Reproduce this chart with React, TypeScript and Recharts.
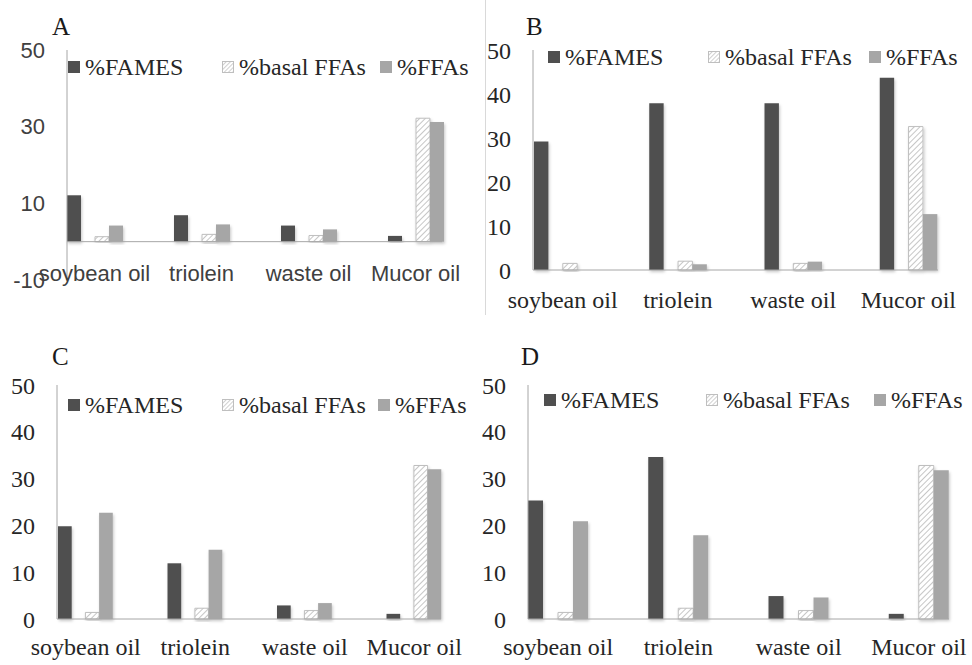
import { BarChart, Bar, XAxis, YAxis, ReferenceLine } from 'recharts'

const categories = ['soybean oil', 'triolein', 'waste oil', 'Mucor oil']
const seriesNames = ['%FAMES', '%basal FFAs', '%FFAs']

const famesA = [12.1, 6.9, 4.2, 1.5]
const basalA = [1.3, 1.9, 1.6, 32.2]
const ffasA = [4.2, 4.5, 3.2, 31.2]

const famesB = [29.2, 37.9, 37.9, 43.7]
const basalB = [1.5, 2.0, 1.5, 32.6]
const ffasB = [0, 1.3, 1.9, 12.7]

const famesC = [19.8, 11.9, 2.9, 1.1]
const basalC = [1.4, 2.3, 1.8, 32.8]
const ffasC = [22.7, 14.8, 3.4, 32.0]

const famesD = [25.3, 34.6, 4.9, 1.1]
const basalD = [1.4, 2.3, 1.8, 32.8]
const ffasD = [20.9, 17.9, 4.6, 31.8]

const ticksA = [-10, 10, 30, 50]
const ticksBCD = [0, 10, 20, 30, 40, 50]

const DARK = '#4f4f4f'
const LIGHT = '#a6a6a6'
const AXIS = '#a6a6a6'
const SERIF = '"Liberation Serif", "Times New Roman", serif'
const SANS = '"Liberation Sans", Arial, sans-serif'

type Panel = {
  id: string
  left: number
  top: number
  width: number
  height: number
  plotLeft: number
  plotRight: number
  plotTop: number
  plotBottom: number
  padLeft: number
  padRight: number
  barSize: number
  domain: [number, number]
  ticks: number[]
  fames: number[]
  basal: number[]
  ffas: number[]
  font: string
  fontSize: number
  textColor: string
  catDy: number
  zeroLine: boolean
  letterX: number
  letterY: number
  legendY: number
  legendX: number[]
}

const panels: Panel[] = [
  {
    id: 'A', left: 0, top: 0, width: 486, height: 320,
    plotLeft: 67, plotRight: 442, plotTop: 50, plotBottom: 280,
    padLeft: -26, padRight: -27, barSize: 14,
    domain: [-10, 50], ticks: ticksA,
    fames: famesA, basal: basalA, ffas: ffasA,
    font: SANS, fontSize: 22, textColor: '#404040', catDy: -7, zeroLine: true,
    letterX: 52, letterY: 13, legendY: 67, legendX: [68, 222, 380],
  },
  {
    id: 'B', left: 486, top: 0, width: 486, height: 320,
    plotLeft: 47, plotRight: 452, plotTop: 50, plotBottom: 270,
    padLeft: -28, padRight: -28, barSize: 14.4,
    domain: [0, 50], ticks: ticksBCD,
    fames: famesB, basal: basalB, ffas: ffasB,
    font: SERIF, fontSize: 24, textColor: '#262626', catDy: 30, zeroLine: false,
    letterX: 40, letterY: 13, legendY: 57, legendX: [62, 222, 383],
  },
  {
    id: 'C', left: 0, top: 330, width: 486, height: 335,
    plotLeft: 57, plotRight: 441, plotTop: 55, plotBottom: 289,
    padLeft: -26, padRight: -28, barSize: 13.7,
    domain: [0, 50], ticks: ticksBCD,
    fames: famesC, basal: basalC, ffas: ffasC,
    font: SERIF, fontSize: 24, textColor: '#262626', catDy: 28, zeroLine: false,
    letterX: 52, letterY: 13, legendY: 75, legendX: [68, 222, 378],
  },
  {
    id: 'D', left: 466, top: 330, width: 506, height: 335,
    plotLeft: 62, plotRight: 483, plotTop: 55, plotBottom: 289,
    padLeft: -30, padRight: -30, barSize: 15,
    domain: [0, 50], ticks: ticksBCD,
    fames: famesD, basal: basalD, ffas: ffasD,
    font: SERIF, fontSize: 24, textColor: '#262626', catDy: 28, zeroLine: false,
    letterX: 55, letterY: 13, legendY: 70, legendX: [78, 240, 408],
  },
]

function LegendSwatch({ kind, id }: { kind: number; id: string }) {
  return (
    <svg width={12} height={12} style={{ display: 'block' }}>
      <defs>
        <pattern id={`lg-hatch-${id}`} patternUnits="userSpaceOnUse" width={3} height={3} patternTransform="rotate(45)">
          <rect width={3} height={3} fill="#fff" />
          <line x1={0} y1={0} x2={0} y2={3} stroke="#b0b0b0" strokeWidth={1.2} />
        </pattern>
      </defs>
      {kind === 0 && <rect width={12} height={12} fill={DARK} />}
      {kind === 1 && <rect x={0.5} y={0.5} width={11} height={11} fill={`url(#lg-hatch-${id})`} stroke="#bfbfbf" />}
      {kind === 2 && <rect width={12} height={12} fill={LIGHT} />}
    </svg>
  )
}

function ChartPanel({ p }: { p: Panel }) {
  const data = categories.map((name, i) => ({
    name,
    fames: p.fames[i],
    basal: p.basal[i],
    ffas: p.ffas[i],
  }))
  const hatchId = `hatch-${p.id}`
  return (
    <div style={{ position: 'absolute', left: p.left, top: p.top, width: p.width, height: p.height }}>
      <BarChart
        width={p.width}
        height={p.height}
        data={data}
        barGap={0}
        barSize={p.barSize}
        margin={{ top: p.plotTop, right: p.width - p.plotRight, left: 0, bottom: 0 }}
      >
        <defs>
          <pattern id={hatchId} patternUnits="userSpaceOnUse" width={4} height={4} patternTransform="rotate(45)">
            <rect width={4} height={4} fill="#fff" />
            <line x1={0} y1={0} x2={0} y2={4} stroke="#b3b3b3" strokeWidth={1.5} />
          </pattern>
          <filter id={`shadow-${p.id}`} x="-30%" y="-10%" width="160%" height="130%">
            <feDropShadow dx={1} dy={2} stdDeviation={1.5} floodColor="#000" floodOpacity={0.22} />
          </filter>
        </defs>
        <XAxis
          dataKey="name"
          height={p.height - p.plotBottom}
          padding={{ left: p.padLeft, right: p.padRight }}
          axisLine={p.zeroLine ? false : { stroke: AXIS }}
          tickLine={false}
          tickSize={0}
          tickMargin={0}
          interval={0}
          tick={(props: any) => (
            <text
              x={props.x}
              y={props.y + p.catDy}
              textAnchor="middle"
              dominantBaseline="central"
              fontFamily={p.font}
              fontSize={p.fontSize}
              fill={p.textColor}
            >
              {props.payload.value}
            </text>
          )}
        />
        <YAxis
          type="number"
          width={p.plotLeft}
          domain={p.domain}
          ticks={p.ticks}
          interval={0}
          axisLine={{ stroke: AXIS }}
          tickLine={false}
          tickSize={0}
          tickMargin={22}
          tick={{ fontFamily: p.font, fontSize: p.fontSize, fill: p.textColor }}
        />
        {p.zeroLine && <ReferenceLine y={0} stroke={AXIS} strokeWidth={1} />}
        <Bar dataKey="fames" name={seriesNames[0]} fill={DARK} isAnimationActive={false} style={{ filter: `url(#shadow-${p.id})` }} />
        <Bar dataKey="spacer" name="" fill="none" isAnimationActive={false} legendType="none" />
        <Bar dataKey="basal" name={seriesNames[1]} fill={`url(#${hatchId})`} stroke="#bfbfbf" strokeWidth={1} isAnimationActive={false} style={{ filter: `url(#shadow-${p.id})` }} />
        <Bar dataKey="ffas" name={seriesNames[2]} fill={LIGHT} isAnimationActive={false} style={{ filter: `url(#shadow-${p.id})` }} />
      </BarChart>
      <div
        style={{
          position: 'absolute',
          left: p.letterX,
          top: p.letterY,
          fontFamily: SERIF,
          fontSize: 25,
          lineHeight: '28px',
          color: '#1a1a1a',
        }}
      >
        {p.id}
      </div>
      {seriesNames.map((s, i) => (
        <div
          key={s}
          style={{
            position: 'absolute',
            left: p.legendX[i],
            top: p.legendY - 14,
            height: 28,
            display: 'flex',
            alignItems: 'center',
            gap: 5,
            fontFamily: SERIF,
            fontSize: 24,
            color: '#262626',
            whiteSpace: 'nowrap',
          }}
        >
          <LegendSwatch kind={i} id={`${p.id}${i}`} />
          <span>{s}</span>
        </div>
      ))}
    </div>
  )
}

export default function App() {
  return (
    <div style={{ position: 'absolute', left: 0, top: 0, width: 972, height: 665, background: '#fff', overflow: 'hidden' }}>
      {panels.map((p) => (
        <ChartPanel key={p.id} p={p} />
      ))}
      <div style={{ position: 'absolute', left: 485, top: 0, width: 1, height: 315, background: '#d9d9d9' }} />
    </div>
  )
}
